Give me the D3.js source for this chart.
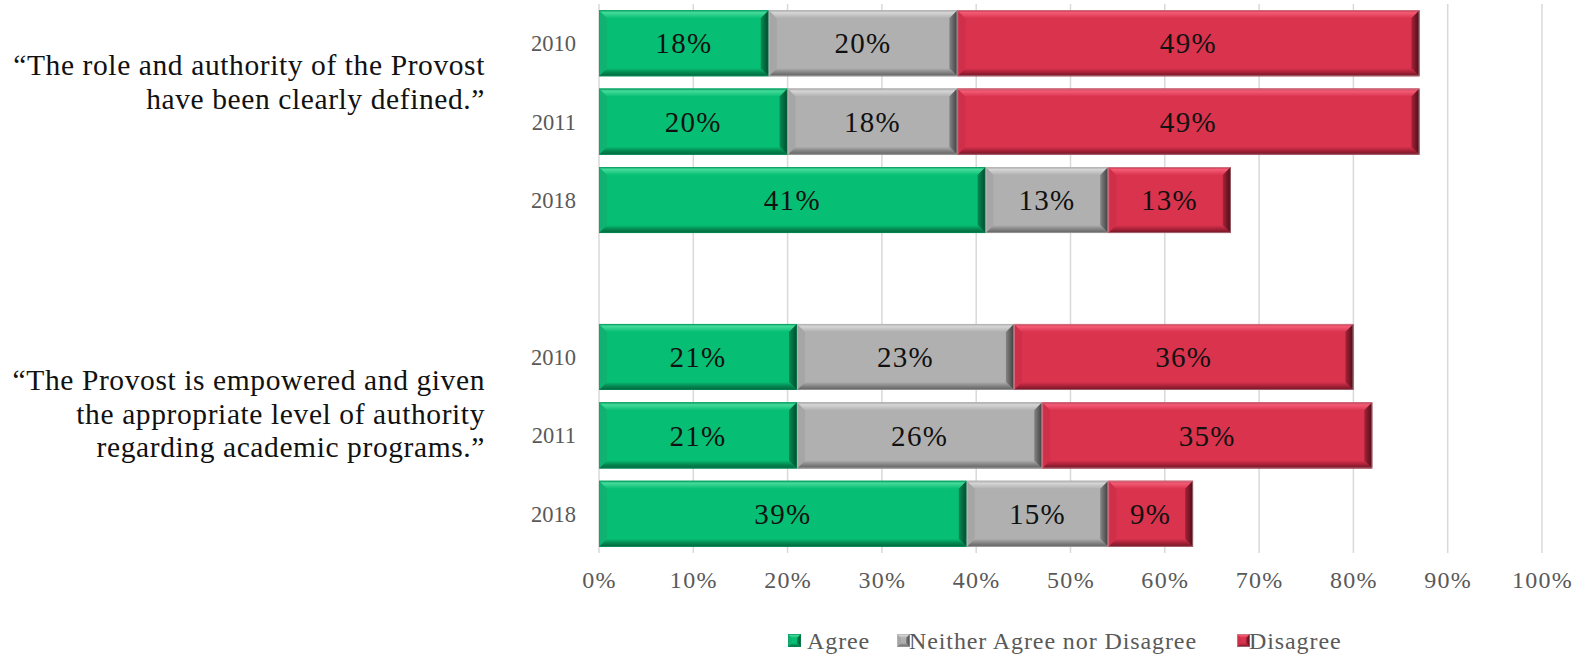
<!DOCTYPE html>
<html><head><meta charset="utf-8">
<script src="https://cdn.jsdelivr.net/npm/d3@7"></script>
<style>body{margin:0;background:#fff}svg{display:block}</style>
</head><body>
<svg id="c" width="1585" height="656"></svg>
<script>
// ---- data ----
const questionLines = [
  ["“The role and authority of the Provost", "have been clearly defined.”"],
  ["“The Provost is empowered and given", "the appropriate level of authority", "regarding academic programs.”"]
];
const years = ["2010", "2011", "2018"];
const seriesNames = ["Agree", "Neither Agree nor Disagree", "Disagree"];
const agree    = [18, 20, 41, 21, 21, 39];
const neither  = [20, 18, 13, 23, 26, 15];
const disagree = [49, 49, 13, 36, 35, 9];
const tickValues = [0, 10, 20, 30, 40, 50, 60, 70, 80, 90, 100];

// ---- layout ----
const svg = d3.select("#c");
const X0 = 599, X1 = 1542, Y0 = 4, Y1 = 553;
const FONT = "'Liberation Serif', 'Times New Roman', serif";
const labelShift = [-40, -22];

const rows = [];
questionLines.forEach((q, qi) => {
  if (qi > 0) rows.push({key: "gap" + qi, gap: true});
  years.forEach((y, yi) => rows.push({key: "q" + qi + "-" + y, q: qi, year: y, idx: qi * 3 + yi}));
});

const x = d3.scaleLinear().domain([0, 100]).range([X0, X1]);
const yBand = d3.scaleBand().domain(rows.map(r => r.key)).range([Y0, Y1]).paddingInner(0.158).paddingOuter(0.079);

const palettes = {
  "Agree":   {main: "#07BF74", top: "#45DA9A", topEdge: "#0AA566", bot: "#048A53", botEdge: "#03643C", left: "#0FB270", right: "#024A2C", border: "#0C9A60"},
  "Neither Agree nor Disagree": {main: "#B0B0B0", top: "#D6D6D6", topEdge: "#A0A0A0", bot: "#858585", botEdge: "#5E5E5E", left: "#A6A6A6", right: "#3E3E3E", border: "#C4C4C4"},
  "Disagree": {main: "#DA334E", top: "#F45C76", topEdge: "#C02A43", bot: "#A82238", botEdge: "#6E1424", left: "#CF2F49", right: "#4A0C16", border: "#C7B0B4"}
};

const defs = svg.append("defs");
Object.entries(palettes).forEach(([name, p], i) => {
  const gT = defs.append("linearGradient").attr("id", "gt" + i).attr("x1", 0).attr("y1", 0).attr("x2", 0).attr("y2", 1);
  gT.append("stop").attr("offset", 0).attr("stop-color", p.topEdge);
  gT.append("stop").attr("offset", 0.3).attr("stop-color", p.top);
  gT.append("stop").attr("offset", 1).attr("stop-color", p.main);
  const gB = defs.append("linearGradient").attr("id", "gb" + i).attr("x1", 0).attr("y1", 0).attr("x2", 0).attr("y2", 1);
  gB.append("stop").attr("offset", 0).attr("stop-color", p.main);
  gB.append("stop").attr("offset", 0.5).attr("stop-color", p.bot);
  gB.append("stop").attr("offset", 1).attr("stop-color", p.botEdge);
  const gR = defs.append("linearGradient").attr("id", "gr" + i).attr("x1", 0).attr("y1", 0).attr("x2", 1).attr("y2", 0);
  gR.append("stop").attr("offset", 0).attr("stop-color", p.bot);
  gR.append("stop").attr("offset", 1).attr("stop-color", p.right);
  p.i = i;
});

function bevelRect(g, x0, y0, w, h, p, b) {
  const x1 = x0 + w, y1 = y0 + h;
  g.append("rect").attr("x", x0).attr("y", y0).attr("width", w).attr("height", h).attr("fill", p.main);
  const poly = (pts, fill) => g.append("polygon").attr("points", pts.map(d => d.join(",")).join(" ")).attr("fill", fill);
  poly([[x0, y0], [x0 + b, y0 + b], [x0 + b, y1 - b], [x0, y1]], p.left);
  poly([[x0, y0], [x1, y0], [x1 - b, y0 + b], [x0 + b, y0 + b]], `url(#gt${p.i})`);
  poly([[x0, y1], [x1, y1], [x1 - b, y1 - b], [x0 + b, y1 - b]], `url(#gb${p.i})`);
  poly([[x1, y0], [x1 - b, y0 + b], [x1 - b, y1 - b], [x1, y1]], `url(#gr${p.i})`);
  g.append("rect").attr("x", x0 + 0.5).attr("y", y0 + 0.5).attr("width", Math.max(0, w - 1)).attr("height", h - 1)
    .attr("fill", "none").attr("stroke", p.border).attr("stroke-width", 0.8).attr("stroke-opacity", 0.6);
}

// gridlines
svg.append("g").selectAll("line").data(tickValues).join("line")
  .attr("x1", d => x(d)).attr("x2", d => x(d)).attr("y1", Y0).attr("y2", Y1)
  .attr("stroke", "#D9D9D9").attr("stroke-width", 1.5);

// x-axis labels
const xAxis = d3.axisBottom(x).tickValues(tickValues).tickFormat(d => d + "%").tickSize(0).tickPadding(0);
const ax = svg.append("g").attr("transform", `translate(0,${Y1})`).call(xAxis);
ax.select(".domain").remove();
ax.selectAll("text").attr("font-family", FONT).attr("font-size", 24).attr("letter-spacing", 1.3)
  .attr("fill", "#595959").attr("dy", "1.45em");

// bars
const stacks = [agree, neither, disagree];
const barG = svg.append("g");
rows.filter(r => !r.gap).forEach(r => {
  let acc = 0;
  const yTop = yBand(r.key), h = yBand.bandwidth();
  stacks.forEach((arr, si) => {
    const v = arr[r.idx];
    const p = palettes[seriesNames[si]];
    const xs = x(acc), xe = x(acc + v);
    bevelRect(barG, xs, yTop, xe - xs, h, p, 8);
    barG.append("text").attr("x", (xs + xe) / 2).attr("y", yTop + h / 2).attr("dy", "0.35em")
      .attr("text-anchor", "middle").attr("font-family", FONT).attr("font-size", 29).attr("letter-spacing", 1.3)
      .attr("fill", "#111").text(v + "%");
    acc += v;
  });
  // year label
  svg.append("text").attr("x", 576).attr("y", yTop + h / 2).attr("dy", "0.35em").attr("text-anchor", "end")
    .attr("font-family", FONT).attr("font-size", 22.5).attr("fill", "#595959").text(r.year);
});

// question labels
questionLines.forEach((lines, qi) => {
  const keys = rows.filter(r => r.q === qi).map(r => r.key);
  const cy = (yBand(keys[0]) + yBand(keys[keys.length - 1]) + yBand.bandwidth()) / 2 + labelShift[qi];
  const lh = 33.5;
  const t = svg.append("text").attr("text-anchor", "end").attr("font-family", FONT).attr("font-size", 29.5)
    .attr("letter-spacing", 0.6).attr("fill", "#111");
  lines.forEach((ln, li) => {
    t.append("tspan").attr("x", 485).attr("y", cy + (li - (lines.length - 1) / 2) * lh).attr("dy", "0.35em").text(ln);
  });
});

// legend
const legendItems = [
  {name: "Agree", mx: 788, tx: 805},
  {name: "Neither Agree nor Disagree", mx: 897, tx: 907},
  {name: "Disagree", mx: 1237, tx: 1247}
];
const lg = svg.append("g");
legendItems.forEach(it => {
  const p = palettes[it.name];
  bevelRect(lg, it.mx, 634, 13, 13, p, 4);
  lg.append("text").attr("x", it.tx + 2).attr("y", 641).attr("dy", "0.35em").attr("font-family", FONT)
    .attr("font-size", 24).attr("letter-spacing", 0.9).attr("fill", "#595959").text(it.name);
});
</script>
</body></html>
